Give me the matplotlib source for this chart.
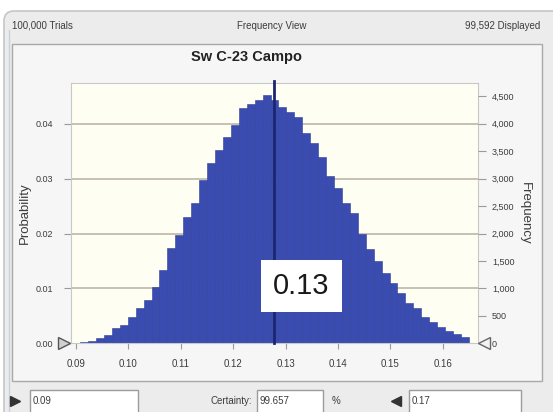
import matplotlib
matplotlib.use("Agg")
import matplotlib.pyplot as plt
from matplotlib.patches import Rectangle, FancyBboxPatch
from matplotlib.lines import Line2D
from matplotlib.transforms import IdentityTransform

plt.rcParams['font.family'] = ['Liberation Sans', 'DejaVu Sans']

# dados (Crystal Ball, visao de frequencia)
titulo = "Sw C-23 Campo"
total_tentativas = 100000
inicio_classes = 0.0908
largura_classe = 0.001514
frequencias = [25, 45, 97, 150, 280, 333, 485, 637, 789, 1031,
               1335, 1730, 1973, 2306, 2561, 2975, 3279, 3521, 3763, 3976,
               4285, 4362, 4436, 4530, 4430, 4300, 4220, 4130, 3825, 3640,
               3400, 3050, 2820, 2560, 2380, 2000, 1720, 1500, 1280, 1100,
               911, 729, 638, 485, 393, 302, 230, 170, 120]
valor_linha = 0.1277
rotulo_linha = "0.13"
ticks_x = [0.09, 0.10, 0.11, 0.12, 0.13, 0.14, 0.15, 0.16]
ticks_prob = [0.00, 0.01, 0.02, 0.03, 0.04]
ticks_freq = [0, 500, 1000, 1500, 2000, 2500, 3000, 3500, 4000, 4500]
cabecalho = ["100,000 Trials", "Frequency View", "99,592 Displayed"]
limite_inferior = "0.09"
limite_superior = "0.17"
certeza = "99.657"

W, H = 553, 412


def fx(px):
    return px / W


def fy(py):
    return 1 - py / H


fig = plt.figure(figsize=(W / 100, H / 100), dpi=100)
fig.patch.set_facecolor('white')

# janela e painel
janela = FancyBboxPatch((4, -10), 570, 411, boxstyle="round,pad=0,rounding_size=10",
                        transform=IdentityTransform(), facecolor='#ececec',
                        edgecolor='#c6c6c6', linewidth=1.2, zorder=-3)
fig.add_artist(janela)
fig.add_artist(Line2D([9, 9], [0, H - 30], transform=IdentityTransform(),
                      color='#c9cfe0', linewidth=1, zorder=-2))
painel = Rectangle((12, H - 381), 530, 337, transform=IdentityTransform(),
                   facecolor='#f6f6f6', edgecolor='#a9a9a9', linewidth=1, zorder=-2)
fig.add_artist(painel)

cor_txt = '#3c3c3c'
fig.text(fx(12), fy(26), cabecalho[0], fontsize=7, color=cor_txt, va='center', ha='left')
fig.text(fx(272), fy(26), cabecalho[1], fontsize=7, color=cor_txt, va='center', ha='center')
fig.text(fx(540), fy(26), cabecalho[2], fontsize=7, color=cor_txt, va='center', ha='right')
fig.text(fx(246.5), fy(57), titulo, fontsize=10.5, fontweight='bold', color='#222222',
         va='center', ha='center')

# area do grafico
ax = fig.add_axes([fx(71), fy(343.3), (478 - 71) / W, (343.3 - 83.3) / H])
ax.set_facecolor('#fefef2')

esquerdas = [inicio_classes + i * largura_classe for i in range(len(frequencias))]
probs = [f / total_tentativas for f in frequencias]
ax.bar(esquerdas, probs, width=largura_classe, align='edge', color='#3a4cb0',
       edgecolor='#2e3f9a', linewidth=0.4, zorder=2)

for t in ticks_prob[1:]:
    ax.axhline(t, color='#c3bcae', linewidth=1.3, zorder=1)

ax.axvline(valor_linha, color='#1c2670', linewidth=2, zorder=3, ymax=1.01, clip_on=False)
ax.text(0.1330, 0.0104, rotulo_linha, fontsize=21, color='#1a1a1a', ha='center', va='center',
        zorder=4, bbox=dict(boxstyle='square,pad=0.42', facecolor='white', edgecolor='none'))

ax.set_xlim(0.08905, 0.16673)
ax.set_ylim(0, 0.04736)
ax.set_xticks(ticks_x)
ax.set_xticklabels(["%.2f" % t for t in ticks_x])
ax.set_yticks(ticks_prob)
ax.set_yticklabels(["%.2f" % t for t in ticks_prob])
ax.tick_params(axis='x', length=4, width=0.8, color='#9a9a9a', labelsize=7,
               labelcolor=cor_txt, pad=7)
ax.tick_params(axis='y', length=5, width=0.8, color='#9a9a9a', labelsize=6.5,
               labelcolor=cor_txt, pad=8)
for s in ax.spines.values():
    s.set_color('#c8c8c8')
    s.set_linewidth(0.8)
ax.set_ylabel("Probability", fontsize=9.5, color=cor_txt, labelpad=3)

ax2 = ax.twinx()
ax2.set_ylim(0, 0.04736 * total_tentativas)
ax2.set_yticks(ticks_freq)
ax2.set_yticklabels(["{:,}".format(t) for t in ticks_freq])
ax2.tick_params(axis='y', length=6, width=0.8, color='#9a9a9a', labelsize=6.5,
                labelcolor=cor_txt, pad=4)
for s in ax2.spines.values():
    s.set_visible(False)
ax2.set_ylabel("Frequency", fontsize=9.5, color=cor_txt, rotation=-90, labelpad=12)

# marcadores de limite junto ao eixo
fig.add_artist(Line2D([fx(64)], [fy(343)], marker='>', markersize=8,
                      markerfacecolor='#d0d0d0', markeredgecolor='#555555',
                      transform=fig.transFigure, zorder=5))
fig.add_artist(Line2D([fx(484)], [fy(343)], marker='<', markersize=8,
                      markerfacecolor='#f2f2f2', markeredgecolor='#666666',
                      transform=fig.transFigure, zorder=5))

# controles inferiores
for x0, x1 in [(30, 138), (257, 323), (409, 521)]:
    fig.add_artist(Rectangle((x0, -3), x1 - x0, H - 390 + 3, transform=IdentityTransform(),
                             facecolor='white', edgecolor='#9c9c9c', linewidth=1))
fig.text(fx(33), fy(401), limite_inferior, fontsize=7, color=cor_txt, va='center')
fig.text(fx(252), fy(401), "Certainty:", fontsize=7, color=cor_txt, va='center', ha='right')
fig.text(fx(260), fy(401), certeza, fontsize=7, color=cor_txt, va='center')
fig.text(fx(336), fy(401), "%", fontsize=7, color=cor_txt, va='center', ha='center')
fig.text(fx(412), fy(401), limite_superior, fontsize=7, color=cor_txt, va='center')
fig.add_artist(Line2D([fx(15)], [fy(401)], marker='>', markersize=7,
                      color='#333333', transform=fig.transFigure))
fig.add_artist(Line2D([fx(396)], [fy(401)], marker='<', markersize=7,
                      color='#333333', transform=fig.transFigure))

fig.savefig("out.png", dpi=100)
